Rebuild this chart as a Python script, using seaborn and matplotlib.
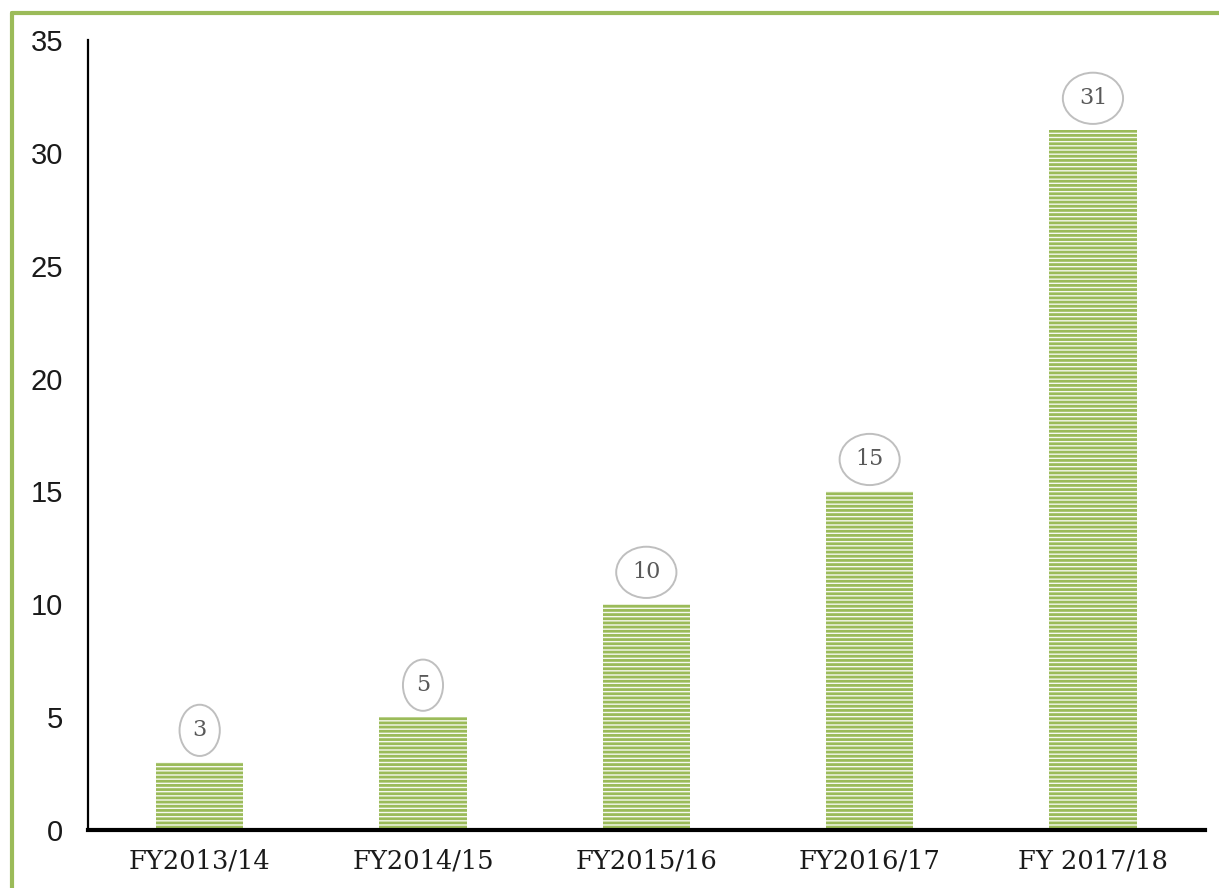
import pandas as pd
import matplotlib.pyplot as plt
import seaborn as sns
from matplotlib.lines import Line2D

# data
years = ["FY2013/14", "FY2014/15", "FY2015/16", "FY2016/17", "FY 2017/18"]
counts = [3, 5, 10, 15, 31]

df = pd.DataFrame({"year": years, "count": counts})

green = "#9bbb59"

sns.set_style("white")
plt.rcParams["hatch.linewidth"] = 2.0

fig = plt.figure(figsize=(12.19, 8.88), dpi=100)
ax = fig.add_axes([0.0722, 0.0653, 0.916, 0.8897])

sns.barplot(data=df, x="year", y="count", ax=ax, width=0.39,
            color="#f6f9f0", edgecolor=green, linewidth=0, hatch="----",
            saturation=1)

ax.set_ylim(0, 35)
ax.set_yticks(range(0, 36, 5))
ax.set_xlabel("")
ax.set_ylabel("")

for lbl in ax.get_yticklabels():
    lbl.set_fontfamily("Liberation Sans")
    lbl.set_fontsize(21)
    lbl.set_color("#1a1a1a")
for lbl in ax.get_xticklabels():
    lbl.set_fontfamily("DejaVu Serif")
    lbl.set_fontsize(18.5)
    lbl.set_color("#1a1a1a")
ax.tick_params(axis="y", length=0, pad=18)
ax.tick_params(axis="x", length=0, pad=13)

sns.despine(ax=ax)
ax.spines["left"].set_linewidth(1.6)
ax.spines["bottom"].set_linewidth(3)
ax.spines["left"].set_color("black")
ax.spines["bottom"].set_color("black")

# oval value labels
for i, v in enumerate(counts):
    ax.annotate(str(v), xy=(i, v), xytext=(0, 23), textcoords="offset points",
                ha="center", va="center", fontsize=16, family="DejaVu Serif",
                color="#595959",
                bbox=dict(boxstyle="ellipse,pad=0.32", fc="white",
                          ec="#bfbfbf", lw=1.4))

# green page border (top and left)
fig.add_artist(Line2D([0.0095, 1.0], [0.9855, 0.9855], color=green, lw=3,
                      transform=fig.transFigure))
fig.add_artist(Line2D([0.0095, 0.0095], [0.0, 0.9855], color=green, lw=3,
                      transform=fig.transFigure))

fig.savefig("out.png", dpi=100)
